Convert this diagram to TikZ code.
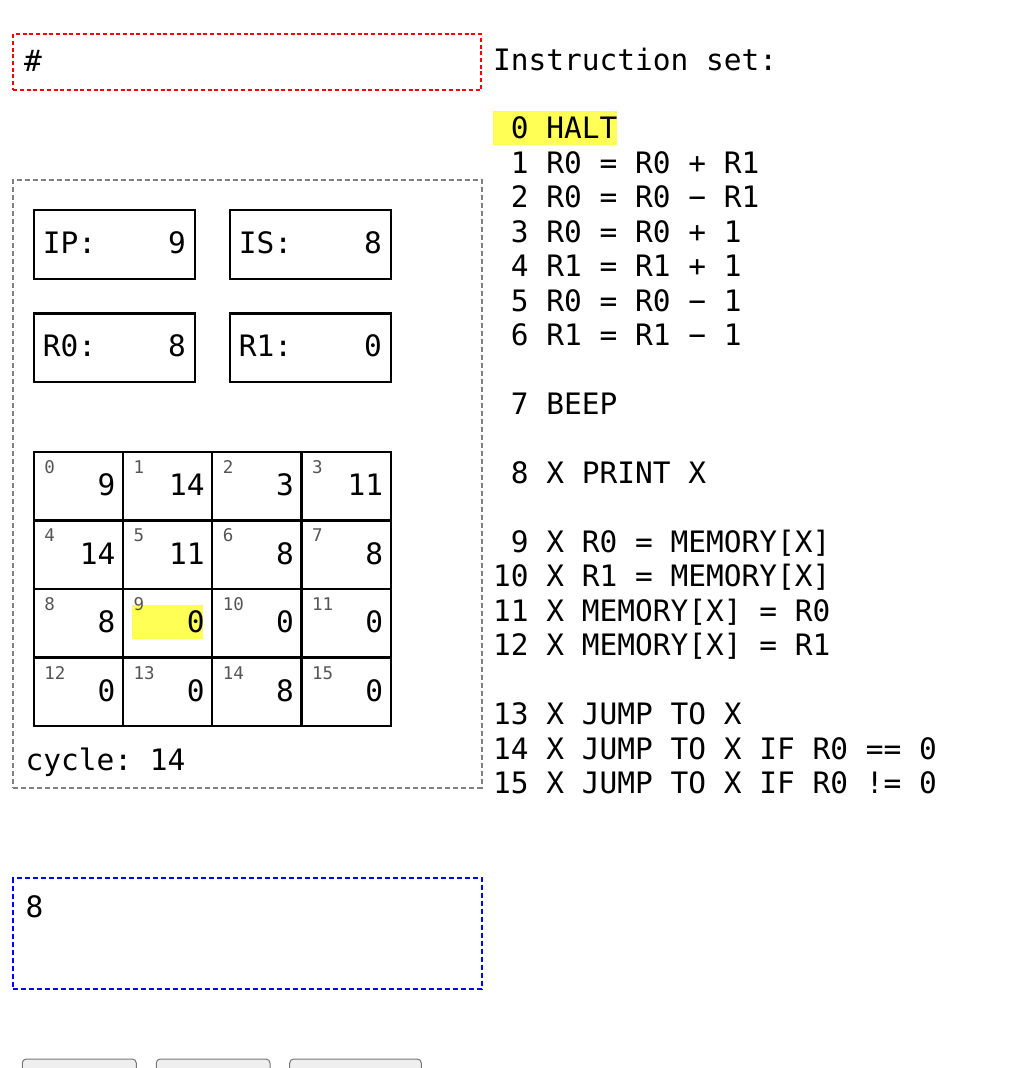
\documentclass[tikz,border=0pt]{standalone}
\usepackage{fontspec}
\setmainfont{DejaVu Sans Mono}
\usetikzlibrary{positioning, backgrounds}
\frenchspacing

\newcommand{\LineH}{34.45pt}
\newcommand{\CellW}{89.25pt}
\newcommand{\CellH}{68.6pt}
\newcommand{\BigText}{\fontsize{29.5pt}{34.45pt}\selectfont}
\newcommand{\SmallText}{\fontsize{17.5pt}{20pt}\selectfont}
\newcommand{\RegText}[2]{\makebox[143pt][s]{#1\hfill #2}}

\definecolor{MarkYellow}{RGB}{255,255,85}
\definecolor{IdxGrey}{RGB}{85,85,85}
\definecolor{BoxGrey}{RGB}{128,128,128}
\definecolor{BtnFill}{RGB}{239,239,239}
\definecolor{BtnEdge}{RGB}{118,118,118}

\tikzset{InstrLine/.style={
    anchor=north west,
    inner sep=0pt,
    outer sep=0pt,
    text height=28pt,
    text depth=6.45pt,
    font=\BigText
    }
}
\tikzset{PlainText/.style={
    anchor=base west,
    inner sep=0pt,
    font=\BigText
    }
}
\tikzset{DashBox/.style={
    anchor=north west,
    inner sep=0pt,
    outer sep=0pt,
    line width=2.2pt,
    dash pattern=on 5pt off 3pt
    }
}
\tikzset{RegBox/.style={
    draw=black,
    line width=2.4pt,
    inner sep=0pt,
    inner xsep=9pt,
    outer sep=0pt,
    minimum width=161.3pt,
    minimum height=68.7pt,
    text height=21.5pt,
    text depth=3.5pt,
    font=\BigText
    }
}
\tikzset{MemCell/.style={
    draw=black,
    line width=2.4pt,
    inner sep=0pt,
    outer sep=0pt,
    minimum width=\CellW,
    minimum height=\CellH,
    text width=74pt,
    align=right,
    text height=21.5pt,
    text depth=2.5pt,
    font=\BigText
    }
}
\tikzset{MemIdx/.style={
    anchor=base west,
    inner sep=0pt,
    text width={},
    text height={},
    text depth={},
    xshift=10.5pt,
    yshift=-21.6pt,
    text=IdxGrey,
    font=\SmallText
    }
}
\tikzset{MemMark/.style={
    fill=MarkYellow,
    inner sep=0pt,
    minimum width=71pt,
    minimum height=34pt
    }
}
\tikzset{Button/.style={
    draw=BtnEdge,
    fill=BtnFill,
    line width=1pt,
    rounded corners=4pt,
    inner sep=0pt,
    outer sep=0pt,
    minimum height=30pt
    }
}

\begin{document}
\begin{tikzpicture}[x=1pt, y=-1pt]
    \useasboundingbox (0,0) rectangle (1024,1068);

    % program input
    \node (prog) [DashBox, draw=red, dash pattern=on 4pt off 2.7pt, minimum width=467.7pt, minimum height=56pt] at (13.3,34) {};
    \node (progtxt) [PlainText] at ([xshift=10.5pt, yshift=-37.7pt]prog.north west) {\#};

    % machine
    \node (mach) [DashBox, draw=BoxGrey, minimum width=468.7pt, minimum height=607.7pt] at (13.3,180) {};

    \node (IP) [RegBox, anchor=north west] at (33.7,210) {\RegText{IP:}{9}};
    \node (IS) [RegBox, right=34.7pt of IP] {\RegText{IS:}{8}};
    \node (R0) [RegBox, below=34.7pt of IP] {\RegText{R0:}{8}};
    \node (R1) [RegBox, right=34.7pt of R0] {\RegText{R1:}{0}};

    % memory
    \node (m0) [MemCell, anchor=north west, label={[MemIdx]north west:0}] at (33.7,451.7) {9};
    \node (m1) [MemCell, right=0pt of m0, label={[MemIdx]north west:1}] {14};
    \node (m2) [MemCell, right=0pt of m1, label={[MemIdx]north west:2}] {3};
    \node (m3) [MemCell, right=0pt of m2, label={[MemIdx]north west:3}] {11};
    \node (m4) [MemCell, below=0pt of m0, label={[MemIdx]north west:4}] {14};
    \node (m5) [MemCell, right=0pt of m4, label={[MemIdx]north west:5}] {11};
    \node (m6) [MemCell, right=0pt of m5, label={[MemIdx]north west:6}] {8};
    \node (m7) [MemCell, right=0pt of m6, label={[MemIdx]north west:7}] {8};
    \node (m8) [MemCell, below=0pt of m4, label={[MemIdx]north west:8}] {8};
    \node (m9) [MemCell, right=0pt of m8, label={[MemIdx]north west:9}] {0};
    \node (m10) [MemCell, right=0pt of m9, label={[MemIdx]north west:10}] {0};
    \node (m11) [MemCell, right=0pt of m10, label={[MemIdx]north west:11}] {0};
    \node (m12) [MemCell, below=0pt of m8, label={[MemIdx]north west:12}] {0};
    \node (m13) [MemCell, right=0pt of m12, label={[MemIdx]north west:13}] {0};
    \node (m14) [MemCell, right=0pt of m13, label={[MemIdx]north west:14}] {8};
    \node (m15) [MemCell, right=0pt of m14, label={[MemIdx]north west:15}] {0};
    \begin{scope}[on background layer]
        \node (ipmark) [MemMark] at ([yshift=1.35pt]m9.center) {};
    \end{scope}

    \node (cycle) [PlainText] at ([xshift=12pt, yshift=17.7pt]mach.south west) {cycle: 14};

    % output
    \node (outp) [DashBox, draw=blue, minimum width=468.7pt, minimum height=111pt] at (13.3,878.3) {};
    \node (outtxt) [PlainText] at ([xshift=12pt, yshift=-39pt]outp.north west) {8};

    % buttons
    \node (btnA) [Button, anchor=north west, minimum width=114pt] at (22.3,1059) {};
    \node (btnB) [Button, minimum width=113.7pt, right=20pt of btnA] {};
    \node (btnC) [Button, minimum width=131.6pt, right=19.7pt of btnB] {};

    % instruction set
    \node (title) [InstrLine] at (493,42) {Instruction set:};
    \node (op0) [InstrLine, fill=MarkYellow, below=\LineH of title.south west, anchor=north west] {\hphantom{0}0 HALT};
    \node (op1) [InstrLine, below=0pt of op0.south west, anchor=north west] {\hphantom{0}1 R0 = R0 + R1};
    \node (op2) [InstrLine, below=0pt of op1.south west, anchor=north west] {\hphantom{0}2 R0 = R0 − R1};
    \node (op3) [InstrLine, below=0pt of op2.south west, anchor=north west] {\hphantom{0}3 R0 = R0 + 1};
    \node (op4) [InstrLine, below=0pt of op3.south west, anchor=north west] {\hphantom{0}4 R1 = R1 + 1};
    \node (op5) [InstrLine, below=0pt of op4.south west, anchor=north west] {\hphantom{0}5 R0 = R0 − 1};
    \node (op6) [InstrLine, below=0pt of op5.south west, anchor=north west] {\hphantom{0}6 R1 = R1 − 1};
    \node (op7) [InstrLine, below=\LineH of op6.south west, anchor=north west] {\hphantom{0}7 BEEP};
    \node (op8) [InstrLine, below=\LineH of op7.south west, anchor=north west] {\hphantom{0}8 X PRINT X};
    \node (op9) [InstrLine, below=\LineH of op8.south west, anchor=north west] {\hphantom{0}9 X R0 = MEMORY[X]};
    \node (op10) [InstrLine, below=0pt of op9.south west, anchor=north west] {10 X R1 = MEMORY[X]};
    \node (op11) [InstrLine, below=0pt of op10.south west, anchor=north west] {11 X MEMORY[X] = R0};
    \node (op12) [InstrLine, below=0pt of op11.south west, anchor=north west] {12 X MEMORY[X] = R1};
    \node (op13) [InstrLine, below=\LineH of op12.south west, anchor=north west] {13 X JUMP TO X};
    \node (op14) [InstrLine, below=0pt of op13.south west, anchor=north west] {14 X JUMP TO X IF R0 == 0};
    \node (op15) [InstrLine, below=0pt of op14.south west, anchor=north west] {15 X JUMP TO X IF R0 != 0};

\end{tikzpicture}
\end{document}
